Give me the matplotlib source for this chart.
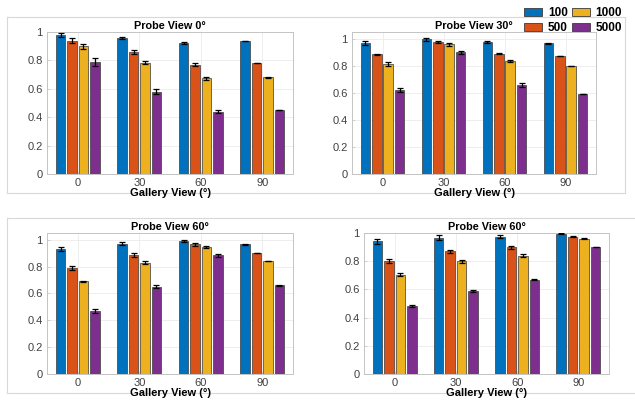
import matplotlib.pyplot as plt
import numpy as np
from matplotlib.ticker import FuncFormatter
from matplotlib.patches import Patch
from matplotlib.lines import Line2D

plt.rcParams['font.family'] = ['Liberation Sans', 'DejaVu Sans']

gallery = ['0', '30', '60', '90']
series = ['100', '500', '1000', '5000']
colors = ['#0072BD', '#D95319', '#EDB120', '#7E2F8E']

titles = ['Probe View 0°', 'Probe View 30°', 'Probe View 60°', 'Probe View 60°']
ytops = [1.0, 1.05, 1.05, 1.0]

# rows = gallery view, cols = series (100, 500, 1000, 5000)
p0_mean = [[0.98, 0.94, 0.90, 0.79],
           [0.96, 0.86, 0.785, 0.58],
           [0.925, 0.77, 0.675, 0.44],
           [0.935, 0.78, 0.68, 0.45]]
p0_err = [[0.012, 0.02, 0.018, 0.028],
          [0.008, 0.016, 0.012, 0.016],
          [0.007, 0.012, 0.01, 0.01],
          [0.001, 0.001, 0.001, 0.001]]

p30_mean = [[0.97, 0.885, 0.81, 0.62],
            [0.995, 0.975, 0.96, 0.90],
            [0.975, 0.89, 0.835, 0.66],
            [0.965, 0.875, 0.80, 0.59]]
p30_err = [[0.015, 0.005, 0.015, 0.015],
           [0.012, 0.005, 0.012, 0.01],
           [0.008, 0.004, 0.01, 0.013],
           [0.002, 0.001, 0.002, 0.002]]

p60a_mean = [[0.93, 0.79, 0.69, 0.47],
             [0.97, 0.885, 0.83, 0.65],
             [0.99, 0.965, 0.945, 0.885],
             [0.965, 0.90, 0.84, 0.66]]
p60a_err = [[0.015, 0.015, 0.005, 0.013],
            [0.013, 0.013, 0.008, 0.01],
            [0.006, 0.009, 0.006, 0.01],
            [0.002, 0.002, 0.002, 0.002]]

p60b_mean = [[0.94, 0.80, 0.705, 0.48],
             [0.965, 0.87, 0.80, 0.59],
             [0.975, 0.90, 0.84, 0.67],
             [0.995, 0.975, 0.96, 0.90]]
p60b_err = [[0.02, 0.016, 0.012, 0.008],
            [0.018, 0.012, 0.012, 0.005],
            [0.01, 0.01, 0.008, 0.003],
            [0.002, 0.002, 0.002, 0.002]]

means = [p0_mean, p30_mean, p60a_mean, p60b_mean]
errs = [p0_err, p30_err, p60a_err, p60b_err]

W, H = 635, 404
fig = plt.figure(figsize=(6.35, 4.04), dpi=100)

def box(l, r, t, b):
    return [l / W, (H - b) / H, (r - l) / W, (b - t) / H]

rects = [box(47, 293, 32, 174), box(352, 596, 32, 174),
         box(47, 293, 233, 374), box(364, 609, 233, 374)]

# light panel frames
frame = '#d8d8d8'
def fline(xs, ys):
    fig.add_artist(Line2D([x / W for x in xs], [1 - y / H for y in ys],
                          color=frame, lw=0.8, zorder=0))
fline([7, 625], [17, 17])
fline([7, 625], [193, 193])
fline([7, 7], [17, 193])
fline([625, 625], [17, 193])
fline([7, 635], [218, 218])
fline([7, 635], [393, 393])
fline([7, 7], [218, 393])

x = np.arange(len(gallery))
offs = [-0.28, -0.093, 0.093, 0.28]
bw = 0.155

for k in range(4):
    ax = fig.add_axes(rects[k])
    m = np.array(means[k])
    e = np.array(errs[k])
    for j in range(4):
        ax.bar(x + offs[j], m[:, j], bw, color=colors[j],
               edgecolor='#3a3a3a', linewidth=0.5, zorder=2)
        ax.errorbar(x + offs[j], m[:, j], yerr=e[:, j], fmt='none',
                    ecolor='black', elinewidth=0.9, capsize=2, capthick=0.9, zorder=3)
    ax.set_xlim(-0.5, 3.5)
    ax.set_ylim(0, ytops[k])
    ax.set_yticks(np.arange(0, 1.01, 0.2))
    ax.yaxis.set_major_formatter(FuncFormatter(lambda v, p: '%g' % round(v, 2)))
    ax.set_xticks(x)
    ax.set_xticklabels(gallery)
    ax.grid(True, color='#ebebeb', lw=0.6, zorder=0)
    ax.set_axisbelow(True)
    for s in ax.spines.values():
        s.set_color('#c4c4c4')
        s.set_linewidth(0.7)
    ax.tick_params(direction='in', length=2, width=0.5, color='#c4c4c4',
                   labelsize=8, labelcolor='#404040', pad=3)
    ax.set_title(titles[k], fontsize=7.8, fontweight='bold', pad=2)
    ax.set_xlabel('Gallery View (°)', fontsize=8, fontweight='bold', labelpad=0)

handles = [Patch(facecolor=colors[j], edgecolor='#3a3a3a', linewidth=0.6) for j in range(4)]
fig.legend(handles, series, loc='upper right', bbox_to_anchor=(629 / W, 1.0),
           ncol=2, frameon=False, prop={'weight': 'bold', 'size': 8.5},
           handlelength=1.5, handleheight=0.75, columnspacing=0.35,
           handletextpad=0.5, labelspacing=0.25, borderpad=0.1)

fig.savefig('out.png', dpi=100)
